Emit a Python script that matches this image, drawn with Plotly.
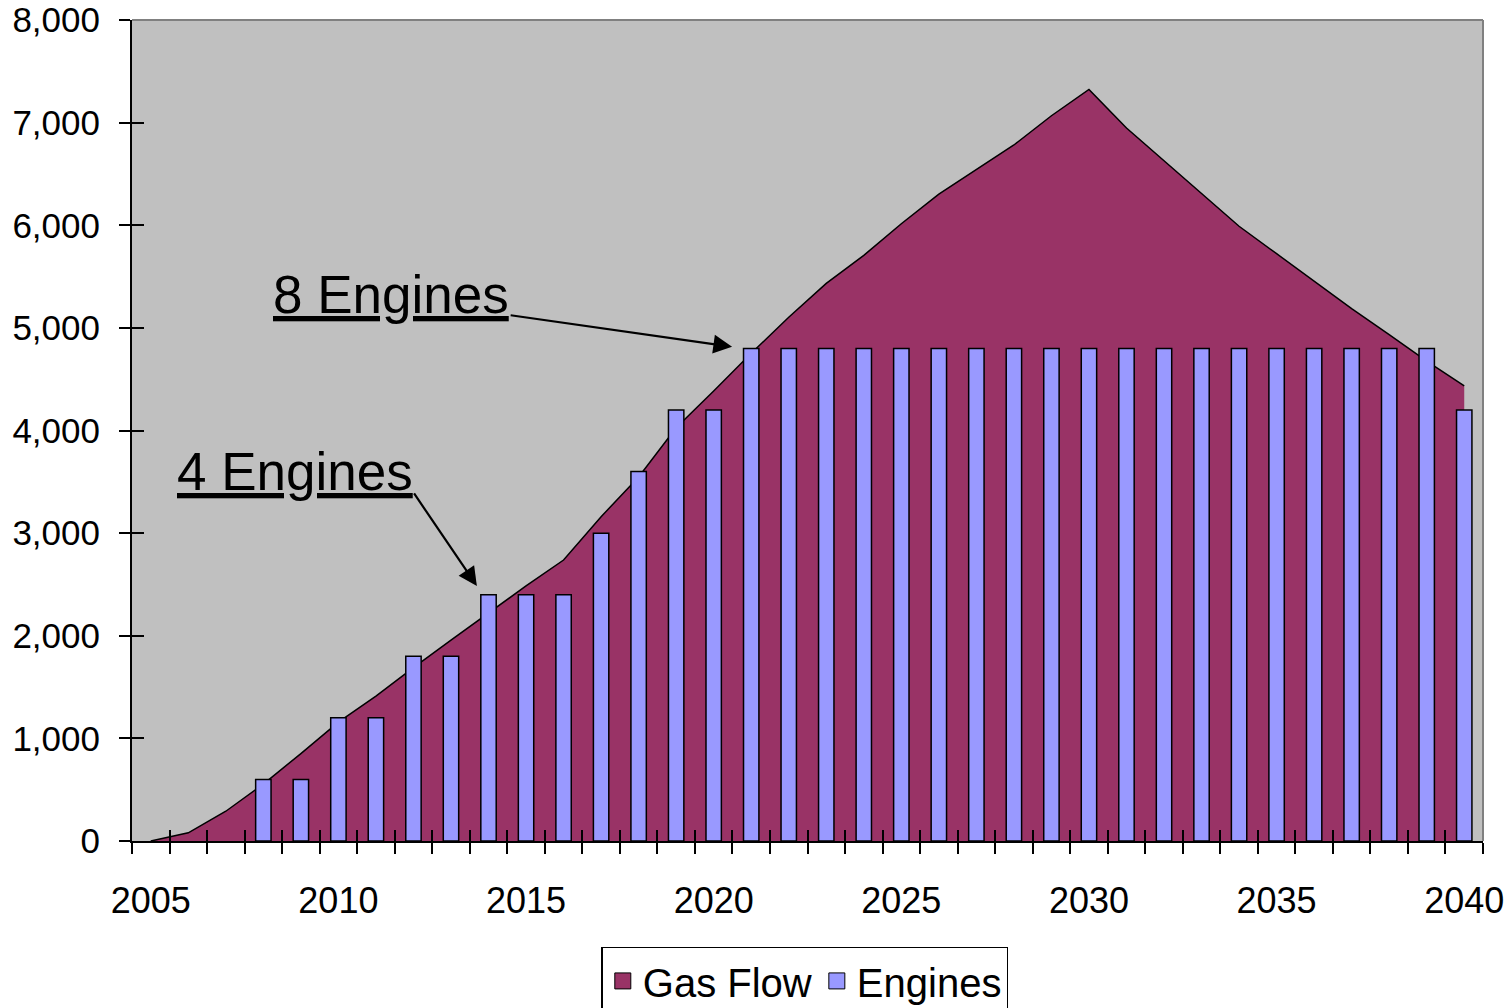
import plotly.graph_objects as go

years = list(range(2005, 2041))
gas_flow = [0, 80, 290, 555, 852, 1158, 1412, 1690, 1958, 2224, 2485, 2738,
            3160, 3547, 4027, 4385, 4752, 5103, 5434, 5707, 6015, 6304, 6545,
            6782, 7067, 7324, 6947, 6629, 6311, 5990, 5723, 5453, 5187, 4934,
            4675, 4434]
engines = [None, None, None, 600, 600, 1200, 1200, 1800, 1800, 2400, 2400,
           2400, 3000, 3600, 4200, 4200] + [4800] * 19 + [4200]

y_ticks = list(range(0, 8001, 1000))
y_ticktext = [f"{v:,}" for v in y_ticks]
x_bounds = [y - 0.5 for y in years] + [years[-1] + 0.5]

FONT = "Liberation Sans, Arial, sans-serif"
GAS_COLOR = "#993366"
ENG_COLOR = "#9999FF"
XR = [2004.5, 2040.5]
YR = [0, 8000]

fig = go.Figure()

fig.add_trace(go.Scatter(
    x=years, y=gas_flow, mode="lines", fill="tozeroy",
    fillcolor=GAS_COLOR, line=dict(color="black", width=1.5),
    name="Gas Flow", showlegend=False, xaxis="x", yaxis="y",
    hoverinfo="skip"))

fig.add_trace(go.Bar(
    x=years, y=engines, width=0.41,
    marker=dict(color=ENG_COLOR, line=dict(color="black", width=1.5)),
    name="Engines", showlegend=False, xaxis="x2", yaxis="y2"))

# legend entries
fig.add_trace(go.Scatter(
    x=[None], y=[None], mode="markers", name="Gas Flow",
    marker=dict(symbol="square", size=16, color=GAS_COLOR,
                line=dict(color="black", width=1)),
    xaxis="x2", yaxis="y2"))
fig.add_trace(go.Scatter(
    x=[None], y=[None], mode="markers", name="Engines",
    marker=dict(symbol="square", size=16, color=ENG_COLOR,
                line=dict(color="black", width=1)),
    xaxis="x2", yaxis="y2"))

ann = []
ann.append(dict(x=2008.21, y=5330, xref="x", yref="y", xanchor="left",
                yanchor="middle", text="<u>8 Engines</u>", showarrow=False,
                font=dict(family=FONT, size=53, color="black")))
ann.append(dict(x=2020.49, y=4816, ax=2014.55, ay=5125, xref="x", yref="y",
                axref="x", ayref="y", text="", showarrow=True, arrowhead=2,
                arrowsize=1.7, arrowwidth=2.2, arrowcolor="black", standoff=0))
ann.append(dict(x=2005.65, y=3600, xref="x", yref="y", xanchor="left",
                yanchor="middle", text="<u>4 Engines</u>", showarrow=False,
                font=dict(family=FONT, size=53, color="black")))
ann.append(dict(x=2013.69, y=2485, ax=2011.99, ay=3401, xref="x", yref="y",
                axref="x", ayref="y", text="", showarrow=True, arrowhead=2,
                arrowsize=1.7, arrowwidth=2.2, arrowcolor="black", standoff=0))

fig.update_layout(
    width=1504, height=1000,
    margin=dict(l=124, r=29, t=12, b=167, autoexpand=False),
    paper_bgcolor="white", plot_bgcolor="#C0C0C0",
    font=dict(family=FONT, color="black"),
    barmode="overlay",
    showlegend=True,
    legend=dict(orientation="h", x=0.498, xanchor="center", y=-0.129,
                yanchor="top", bgcolor="white", bordercolor="black",
                borderwidth=1.5, font=dict(family=FONT, size=40),
                itemsizing="trace"),
    xaxis=dict(range=XR, tickmode="linear", tick0=2005, dtick=5,
               ticks="outside", ticklen=11, tickcolor="rgba(0,0,0,0)",
               ticklabelstandoff=16, tickfont=dict(family=FONT, size=36),
               ticklabeloverflow="allow",
               minor=dict(tickmode="linear", tick0=2004.5, dtick=1,
                          ticks="outside", ticklen=11, tickwidth=1.5,
                          tickcolor="black", showgrid=False),
               showline=True, linecolor="black", linewidth=2,
               showgrid=False, zeroline=False, anchor="y", automargin=False),
    xaxis2=dict(range=XR, overlaying="x", anchor="y2", tickmode="array",
                tickvals=x_bounds, ticks="inside", ticklen=11, tickwidth=1.5,
                tickcolor="black", showticklabels=False, showline=False,
                showgrid=False, zeroline=False, automargin=False),
    yaxis=dict(range=YR, tickmode="array", tickvals=y_ticks,
               ticktext=y_ticktext, ticks="outside", ticklen=11,
               tickwidth=1.5, tickcolor="black", ticklabelstandoff=12,
               ticklabeloverflow="allow",
               tickfont=dict(family=FONT, size=35), showline=True,
               linecolor="black", linewidth=2, showgrid=False,
               zeroline=False, anchor="x", automargin=False),
    yaxis2=dict(range=YR, overlaying="y", anchor="x2", tickmode="array",
                tickvals=y_ticks, ticks="inside", ticklen=12, tickwidth=1.5,
                tickcolor="black", showticklabels=False, showline=False,
                showgrid=False, zeroline=False, automargin=False),
    annotations=ann,
    shapes=[
        dict(type="line", xref="paper", yref="paper", x0=0, x1=1, y0=1, y1=1,
             line=dict(color="#808080", width=2), layer="above"),
        dict(type="line", xref="paper", yref="paper", x0=1, x1=1, y0=0, y1=1,
             line=dict(color="#808080", width=2), layer="above"),
    ],
)

fig.write_html("out.html")
